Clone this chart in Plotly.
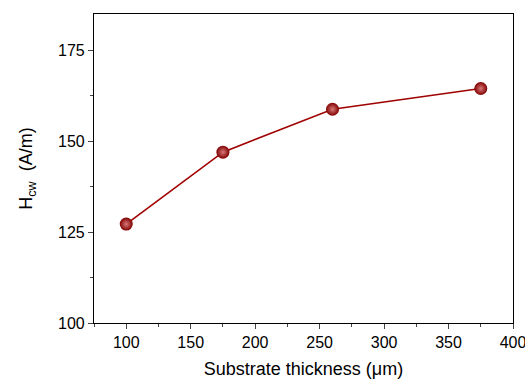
import plotly.graph_objects as go

thickness = [100, 175, 260, 375]
hcw = [127.2, 147.0, 158.8, 164.5]
x_ticks = [100, 150, 200, 250, 300, 350, 400]
y_ticks = [100, 125, 150, 175]

fig = go.Figure()
fig.add_trace(go.Scatter(
    x=thickness, y=hcw, mode="lines+markers",
    line=dict(color="#A00000", width=1.6),
    marker=dict(size=13, color="#800000",
                gradient=dict(type="radial", color="#D87878"),
                line=dict(width=0)),
    showlegend=False,
))

font = "Liberation Sans, Arial, sans-serif"
fig.update_layout(
    width=525, height=379,
    margin=dict(l=94, r=12, t=14, b=56),
    plot_bgcolor="white", paper_bgcolor="white",
    font=dict(family=font, size=16, color="black"),
)
fig.update_xaxes(
    range=[75, 400], tickvals=x_ticks, ticks="outside", ticklen=5, tickwidth=1,
    minor=dict(dtick=25, tick0=75, ticks="outside", ticklen=3, tickwidth=1),
    showline=True, linecolor="black", linewidth=1.2, mirror=True,
    showgrid=False, zeroline=False, automargin=False,
    tickfont=dict(size=16), ticklabeloverflow="allow",
    title=dict(text="Substrate thickness (μm)", font=dict(size=18), standoff=12),
)
fig.update_yaxes(
    range=[100, 185], tickvals=y_ticks, ticks="outside", ticklen=5, tickwidth=1,
    minor=dict(dtick=12.5, tick0=100, ticks="outside", ticklen=3, tickwidth=1),
    showline=True, linecolor="black", linewidth=1.2, mirror=True,
    showgrid=False, zeroline=False, automargin=False,
    tickfont=dict(size=16), ticklabeloverflow="allow",
    title=dict(text="H<sub>cw</sub>  (A/m)", font=dict(size=18), standoff=20),
)
fig.write_html("out.html", config={"displayModeBar": False},
               post_script="document.body.style.margin='0';document.body.style.overflow='hidden';")
